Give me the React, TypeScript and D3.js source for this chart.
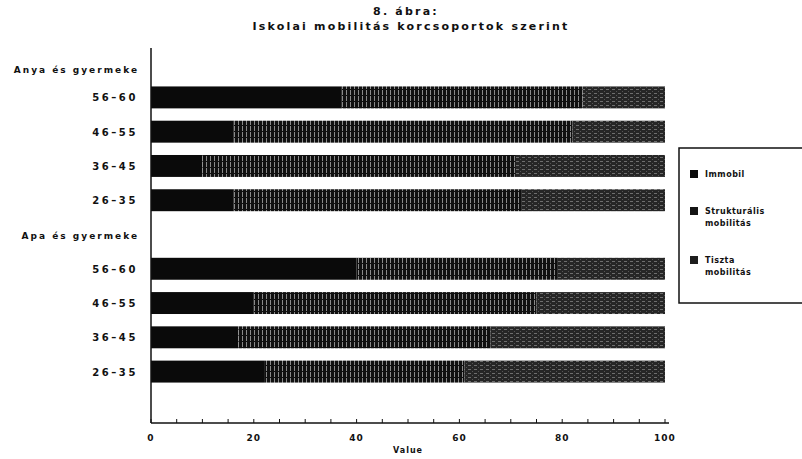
import React from "react";
import * as d3 from "d3";

const titleLines = ["8. ábra:", "Iskolai mobilitás korcsoportok szerint"];
const groups = ["Anya és gyermeke", "Apa és gyermeke"];
const ages = ["56–60", "46–55", "36–45", "26–35"];
const seriesNames = ["Immobil", "Strukturális mobilitás", "Tiszta mobilitás"];
const legendLines = [["Immobil"], ["Strukturális", "mobilitás"], ["Tiszta", "mobilitás"]];
const anyaImmobil = [37, 16, 10, 16];
const anyaStrukt = [47, 66, 61, 56];
const anyaTiszta = [16, 18, 29, 28];
const apaImmobil = [40, 20, 17, 22];
const apaStrukt = [39, 55, 49, 39];
const apaTiszta = [21, 25, 34, 39];
const xTickLabels = [0, 20, 40, 60, 80, 100];
const xAxisTitle = "Value";

const W = 802;
const H = 459;
const font = "'DejaVu Sans', sans-serif";

type Row = { key: string; kind: "header" | "bar" | "blank"; label: string; values?: number[] };

export default function App() {
  const rows: Row[] = [];
  const groupData = [
    [anyaImmobil, anyaStrukt, anyaTiszta],
    [apaImmobil, apaStrukt, apaTiszta],
  ];
  groups.forEach((g, gi) => {
    rows.push({ key: "h" + gi, kind: "header", label: g });
    ages.forEach((a, ai) => {
      rows.push({
        key: "b" + gi + ai,
        kind: "bar",
        label: a,
        values: groupData[gi].map((s) => s[ai]),
      });
    });
  });
  rows.push({ key: "blank", kind: "blank", label: "" });

  const plotLeft = 151;
  const plotRight = 665;
  const axisY = 423;
  const x = d3.scaleLinear().domain([0, 100]).range([plotLeft, plotRight]);
  const y = d3
    .scaleBand<string>()
    .domain(rows.map((r) => r.key))
    .range([46, axisY])
    .paddingInner(0.36)
    .paddingOuter(0.18);

  const fills = ["#0a0a0a", "url(#strukt)", "url(#tiszta)"];
  const legendFills = ["#0a0a0a", "#141414", "#1e1e1e"];
  const stack = d3.stack<number[]>().keys(["0", "1", "2"]).value((d, k) => d[+k]);
  const barRows = rows.filter((r) => r.kind === "bar");
  const stacked = stack(barRows.map((r) => r.values as number[]));

  const minorTicks = d3.range(0, 101, 5);

  return (
    <svg
      width={W}
      height={H}
      style={{ position: "absolute", left: 0, top: 0, background: "#fff" }}
      fontFamily={font}
    >
      <defs>
        <pattern id="strukt" patternUnits="userSpaceOnUse" width={4} height={6}>
          <rect width={4} height={6} fill="#101010" />
          <rect x={2} y={0} width={1} height={5} fill="#8a8a8a" />
        </pattern>
        <pattern id="tiszta" patternUnits="userSpaceOnUse" width={6} height={4}>
          <rect width={6} height={4} fill="#262626" />
          <rect x={0} y={1} width={3} height={1} fill="#6e6e6e" />
          <rect x={4} y={3} width={1} height={1} fill="#555" />
        </pattern>
      </defs>
      <rect width={W} height={H} fill="#fff" />

      {/* title */}
      <g textAnchor="middle" fontSize={11} fontWeight="bold" fill="#111" letterSpacing={2.2}>
        <text x={406} y={15}>{titleLines[0]}</text>
        <text x={411} y={30}>{titleLines[1]}</text>
      </g>

      {/* bars */}
      {stacked.map((layer, si) => (
        <g key={si} fill={fills[si]}>
          {layer.map((d, i) => (
            <rect
              key={i}
              x={x(d[0])}
              y={y(barRows[i].key) as number}
              width={x(d[1]) - x(d[0])}
              height={y.bandwidth()}
            />
          ))}
        </g>
      ))}

      {/* y labels */}
      <g fontWeight="bold" fill="#111" textAnchor="end">
        {rows.map((r) =>
          r.kind === "blank" ? null : (
            <text
              key={r.key}
              x={r.kind === "header" ? 139 : 138}
              y={(y(r.key) as number) + y.bandwidth() / 2 + (r.key === "h0" ? 10 : 4)}
              fontSize={r.kind === "header" ? 9 : 10}
              letterSpacing={r.kind === "header" ? 2 : 2.6}
            >
              {r.label}
            </text>
          )
        )}
      </g>

      {/* axes */}
      <line x1={plotLeft} x2={plotLeft} y1={48} y2={axisY} stroke="#111" strokeWidth={1.5} />
      <line x1={plotLeft} x2={plotRight + 4} y1={axisY} y2={axisY} stroke="#111" strokeWidth={1.5} />
      {minorTicks.map((t) => (
        <line key={t} x1={x(t)} x2={x(t)} y1={axisY} y2={axisY - 4} stroke="#111" strokeWidth={1} />
      ))}
      <g textAnchor="middle" fontSize={9} fontWeight="bold" fill="#111" letterSpacing={1}>
        {xTickLabels.map((t) => (
          <text key={t} x={x(t)} y={441}>
            {t}
          </text>
        ))}
        <text x={x(50)} y={453} fontSize={8}>
          {xAxisTitle}
        </text>
      </g>

      {/* legend */}
      <rect x={679} y={148} width={140} height={155} fill="#fff" stroke="#111" strokeWidth={1.5} />
      {seriesNames.map((s, i) => {
        const ys = [170, 207, 256][i];
        return (
          <g key={s}>
            <rect x={690} y={ys} width={8} height={8} fill={legendFills[i]} />
            {legendLines[i].map((ln, li) => (
              <text
                key={li}
                x={705}
                y={ys + 7 + li * 12}
                fontSize={8}
                fontWeight="bold"
                fill="#111"
                letterSpacing={0.5}
              >
                {ln}
              </text>
            ))}
          </g>
        );
      })}
    </svg>
  );
}
